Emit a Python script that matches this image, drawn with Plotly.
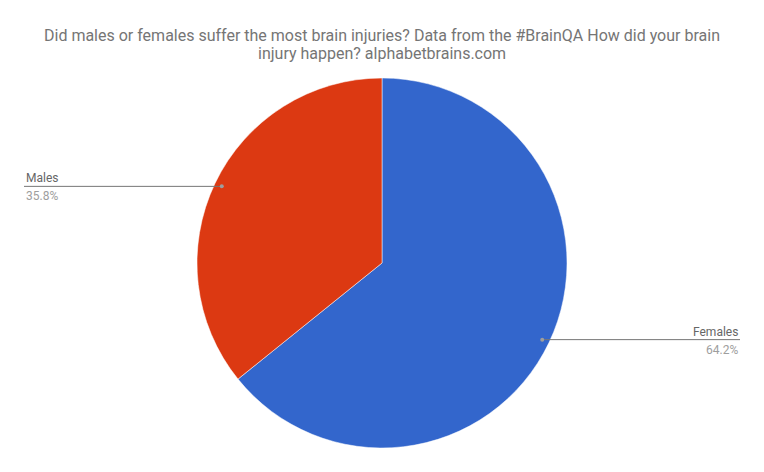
import math
import plotly.graph_objects as go

labels = ["Females", "Males"]
values = [64.2, 35.8]
colors = ["#3366cc", "#dc3912"]
title_lines = ["Did males or females suffer the most brain injuries? Data from the #BrainQA How did your brain",
               "injury happen? alphabetbrains.com"]

OFF = 8  # page body margin
W, H = 764 - 2 * OFF, 472 - 2 * OFF
cx, cy, R = 382, 263, 185  # pie centre and radius in screen pixels

def px(x):
    return (x - OFF) / W

def py(y):
    return 1 - (y - OFF) / H

fig = go.Figure(go.Pie(
    labels=labels, values=values, sort=False, direction="clockwise", rotation=0,
    marker=dict(colors=colors, line=dict(color="white", width=0.5)),
    textinfo="none", showlegend=False,
    domain=dict(x=[px(cx - R), px(cx + R)], y=[py(cy + R), py(cy - R)]),
))

shapes = []
annotations = []
total = sum(values)
cum = 0.0
for lab, v in zip(labels, values):
    mid = (cum + v / 2) / total * 2 * math.pi
    cum += v
    dx = math.sin(mid) * R * 0.96
    dy = -math.cos(mid) * R * 0.96
    dotx, doty = cx + dx, cy + dy
    right = dx > 0
    endx = 740 if right else 24
    shapes.append(dict(type="line", xref="paper", yref="paper",
                       x0=px(dotx), y0=py(doty), x1=px(endx), y1=py(doty),
                       line=dict(color="#757575", width=1)))
    shapes.append(dict(type="circle", xref="paper", yref="paper",
                       x0=px(dotx - 2), x1=px(dotx + 2), y0=py(doty + 2), y1=py(doty - 2),
                       fillcolor="#9e9e9e", line=dict(width=0)))
    anchor = "right" if right else "left"
    annotations.append(dict(xref="paper", yref="paper", x=px(endx), y=py(doty - 8),
                            text=lab, showarrow=False, xanchor=anchor, yanchor="middle",
                            font=dict(size=12, color="#666666")))
    annotations.append(dict(xref="paper", yref="paper", x=px(endx), y=py(doty + 10),
                            text=f"{v:.1f}%", showarrow=False, xanchor=anchor, yanchor="middle",
                            font=dict(size=12, color="#9e9e9e")))

for i, line in enumerate(title_lines):
    annotations.append(dict(xref="paper", yref="paper", x=0.5, y=py(36 + 17 * i), text=line,
                            showarrow=False, xanchor="center", yanchor="middle",
                            font=dict(size=16, color="#757575")))

fig.update_layout(
    width=W, height=H, margin=dict(l=0, r=0, t=0, b=0),
    paper_bgcolor="white", plot_bgcolor="white",
    font=dict(family="Roboto, sans-serif"),
    shapes=shapes, annotations=annotations,
)

fig.write_html("out.html")
